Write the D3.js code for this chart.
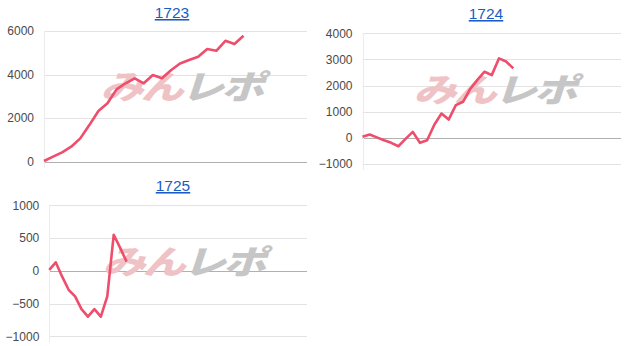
<!DOCTYPE html>
<html>
<head>
<meta charset="utf-8">
<script src="https://cdn.jsdelivr.net/npm/d3@7"></script>
<style>
  body { margin: 0; background: #fff; }
  svg { display: block; font-family: "Liberation Sans", Arial, sans-serif; }
</style>
</head>
<body>
<svg id="chart" width="628" height="346"></svg>
<script>
// machine numbers (panel titles)
const titles = ["1723", "1724", "1725"];

// cumulative difference per game slot
const values1723 = [30, 230, 430, 690, 1070, 1680, 2330, 2680, 3320, 3600, 3830, 3600, 3980,
  3830, 4200, 4510, 4670, 4820, 5170, 5090, 5550, 5400, 5780];
const values1724 = [40, 130, 20, -90, -190, -320, -40, 230, -190, -90, 500, 930, 700,
  1250, 1380, 1870, 2220, 2530, 2400, 3040, 2920, 2660];
const values1725 = [15, 130, -90, -290, -390, -585, -700, -585, -700, -390, 550, 350, 140];

// number of x slots on each axis
const slots = [29, 36, 40];

// y ticks
const ticks1723 = [0, 2000, 4000, 6000];
const ticks1724 = [-1000, 0, 1000, 2000, 3000, 4000];
const ticks1725 = [-1000, -500, 0, 500, 1000];

const svg = d3.select("#chart");

const panels = [
  { title: titles[0], data: values1723, ticks: ticks1723, n: slots[0],
    x0: 44, x1: 307, yTop: 31, yBot: 161.7, titleX: 172, titleY: 18, mark: [181, 87] },
  { title: titles[1], data: values1724, ticks: ticks1724, n: slots[1],
    x0: 362.5, x1: 621, yTop: 33.3, yBot: 164, titleX: 486, titleY: 19, mark: [494, 90] },
  { title: titles[2], data: values1725, ticks: ticks1725, n: slots[2],
    x0: 49.3, x1: 307, yTop: 205.3, yBot: 336.3, titleX: 173, titleY: 191, mark: [183, 262] }
];

panels.forEach(function (p) {
  const g = svg.append("g");
  const x = d3.scaleLinear().domain([0, p.n]).range([p.x0, p.x1]);
  const y = d3.scaleLinear().domain(d3.extent(p.ticks)).range([p.yBot, p.yTop]);

  // title
  g.append("text")
    .attr("x", p.titleX).attr("y", p.titleY)
    .attr("text-anchor", "middle")
    .attr("font-size", 15.5)
    .attr("fill", "#1a5cc4")
    .attr("text-decoration", "underline")
    .text(p.title);

  // gridlines
  g.selectAll("line.grid")
    .data(p.ticks)
    .enter()
    .append("line")
    .attr("x1", p.x0).attr("x2", p.x1)
    .attr("y1", d => Math.round(y(d)) + 0.5)
    .attr("y2", d => Math.round(y(d)) + 0.5)
    .attr("stroke", d => d === 0 ? "#b0b0b0" : "#e3e3e3")
    .attr("stroke-width", 1);

  // left axis line
  g.append("line")
    .attr("x1", Math.round(p.x0) + 0.5).attr("x2", Math.round(p.x0) + 0.5)
    .attr("y1", p.yTop).attr("y2", p.yBot + 6)
    .attr("stroke", "#ececec");

  // tick labels
  const axis = d3.axisLeft(y).tickValues(p.ticks).tickFormat(d3.format("d"))
    .tickSize(0).tickPadding(10);
  const ax = g.append("g")
    .attr("transform", "translate(" + p.x0 + ",0)")
    .call(axis);
  ax.select(".domain").remove();
  ax.selectAll("text")
    .attr("font-size", 12)
    .attr("font-family", "\"Liberation Sans\", Arial, sans-serif")
    .attr("fill", "#4a4a4a");

  // watermark
  const wm = g.append("text")
    .attr("transform", "translate(" + p.mark[0] + "," + (p.mark[1] + 12) + ") scale(1.3,1)")
    .attr("text-anchor", "middle")
    .attr("font-size", 33)
    .attr("font-weight", 900)
    .attr("font-style", "italic")
    .attr("font-family", "\"Noto Sans CJK JP\", sans-serif")
    .attr("letter-spacing", -2);
  wm.append("tspan").attr("fill", "#efc3c6").text("みん");
  wm.append("tspan").attr("fill", "#c6c6c6").text("レポ");

  // line
  const line = d3.line()
    .x((d, i) => x(i))
    .y(d => y(d));
  g.append("path")
    .datum(p.data)
    .attr("d", line)
    .attr("fill", "none")
    .attr("stroke", "#ee4d6b")
    .attr("stroke-width", 2.6)
    .attr("stroke-linejoin", "round");
});
</script>
</body>
</html>
